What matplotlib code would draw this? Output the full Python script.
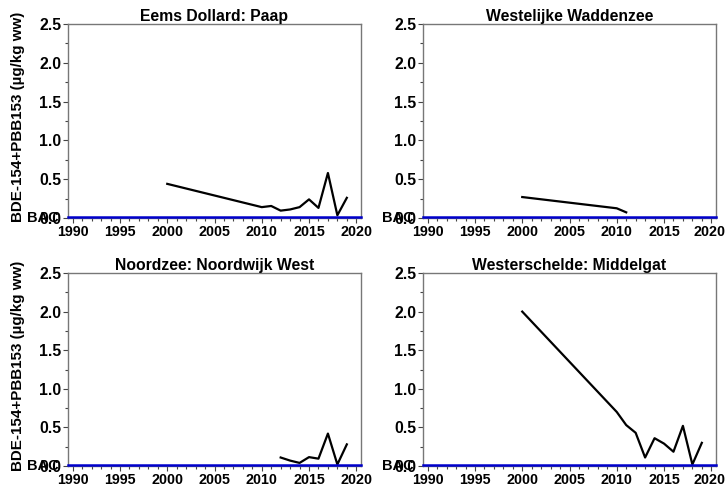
import matplotlib
matplotlib.use("Agg")
import matplotlib.pyplot as plt
from matplotlib.ticker import MultipleLocator, FuncFormatter
from matplotlib.transforms import offset_copy

plt.rcParams['font.family'] = ['Liberation Sans', 'DejaVu Sans']
plt.rcParams['font.weight'] = 'bold'

titles = ["Eems Dollard: Paap", "Westelijke Waddenzee",
          "Noordzee: Noordwijk West", "Westerschelde: Middelgat"]

years_eems = [2000, 2010, 2011, 2012, 2013, 2014, 2015, 2016, 2017, 2018, 2019]
vals_eems = [0.44, 0.14, 0.155, 0.095, 0.11, 0.14, 0.24, 0.13, 0.58, 0.035, 0.26]

years_wadden = [2000, 2010, 2011]
vals_wadden = [0.27, 0.125, 0.073]

years_noord = [2012, 2013, 2014, 2015, 2016, 2017, 2018, 2019]
vals_noord = [0.11, 0.07, 0.04, 0.115, 0.095, 0.42, 0.02, 0.28]

years_wester = [2000, 2010, 2011, 2012, 2013, 2014, 2015, 2016, 2017, 2018, 2019]
vals_wester = [2.0, 0.70, 0.53, 0.43, 0.11, 0.36, 0.29, 0.185, 0.52, 0.02, 0.30]

bac_value = 0.01
ylabel = "BDE-154+PBB153 (µg/kg ww)"

series = [(years_eems, vals_eems), (years_wadden, vals_wadden),
          (years_noord, vals_noord), (years_wester, vals_wester)]

fig = plt.figure(figsize=(7.26, 4.93), dpi=100)
W, H = 726, 493
boxes = [(68, 24, 361, 218), (423, 24, 716, 218),
         (68, 273, 361, 466), (423, 273, 716, 466)]

XLAB = 10.3
TL, PAD = 3.6, 1.2
for i, ((x0, y0, x1, y1), (yrs, vals), title) in enumerate(zip(boxes, series, titles)):
    ax = fig.add_axes([x0 / W, 1 - y1 / H, (x1 - x0) / W, (y1 - y0) / H])
    ax.plot(yrs, vals, color='black', lw=1.6, zorder=3)
    ax.axhline(bac_value, color='#0000cc', lw=1.8, zorder=4, clip_on=False)
    ax.set_xlim(1989.5, 2020.5)
    ax.set_ylim(0, 2.5)
    ax.xaxis.set_major_locator(MultipleLocator(5))
    ax.xaxis.set_minor_locator(MultipleLocator(1))
    ax.yaxis.set_major_locator(MultipleLocator(0.5))
    ax.yaxis.set_minor_locator(MultipleLocator(0.25))
    ax.yaxis.set_major_formatter(matplotlib.ticker.FormatStrFormatter('%.1f'))
    right = (i % 2 == 1)
    if right:
        ax.xaxis.set_major_formatter(FuncFormatter(
            lambda v, p: "" if round(v) == 2020 else "%d" % round(v)))
        trx = offset_copy(ax.get_xaxis_transform(), fig=fig, x=10,
                          y=-(TL + PAD), units='points')
        ax.text(2020, 0, "2020", transform=trx, ha='right', va='top',
                fontsize=XLAB, fontweight='bold')
    ax.tick_params(which='major', length=TL, width=0.8, color='#444444', pad=PAD)
    ax.tick_params(which='minor', length=2.2, width=0.8, color='#444444')
    ax.tick_params(axis='x', labelsize=XLAB)
    ax.tick_params(axis='y', labelsize=11.3)
    for lab in ax.get_xticklabels() + ax.get_yticklabels():
        lab.set_fontweight('bold')
    for sp in ax.spines.values():
        sp.set_color('#777777')
        sp.set_linewidth(1.0)
    ax.set_title(title, fontsize=11.3, fontweight='bold', pad=2)
    tr = offset_copy(ax.get_yaxis_transform(), fig=fig, x=-(TL + PAD) - 1.5, y=0,
                     units='points')
    ax.text(0, 0, "BAC", transform=tr, ha='right', va='center',
            fontsize=10.5, fontweight='bold')
    if not right:
        ycenter = (y0 + y1) / 2 - 4
        fig.text(18 / W, 1 - ycenter / H, ylabel, rotation=90, ha='center',
                 va='center', fontsize=10.9, fontweight='bold')

fig.savefig("out.png", dpi=100)
